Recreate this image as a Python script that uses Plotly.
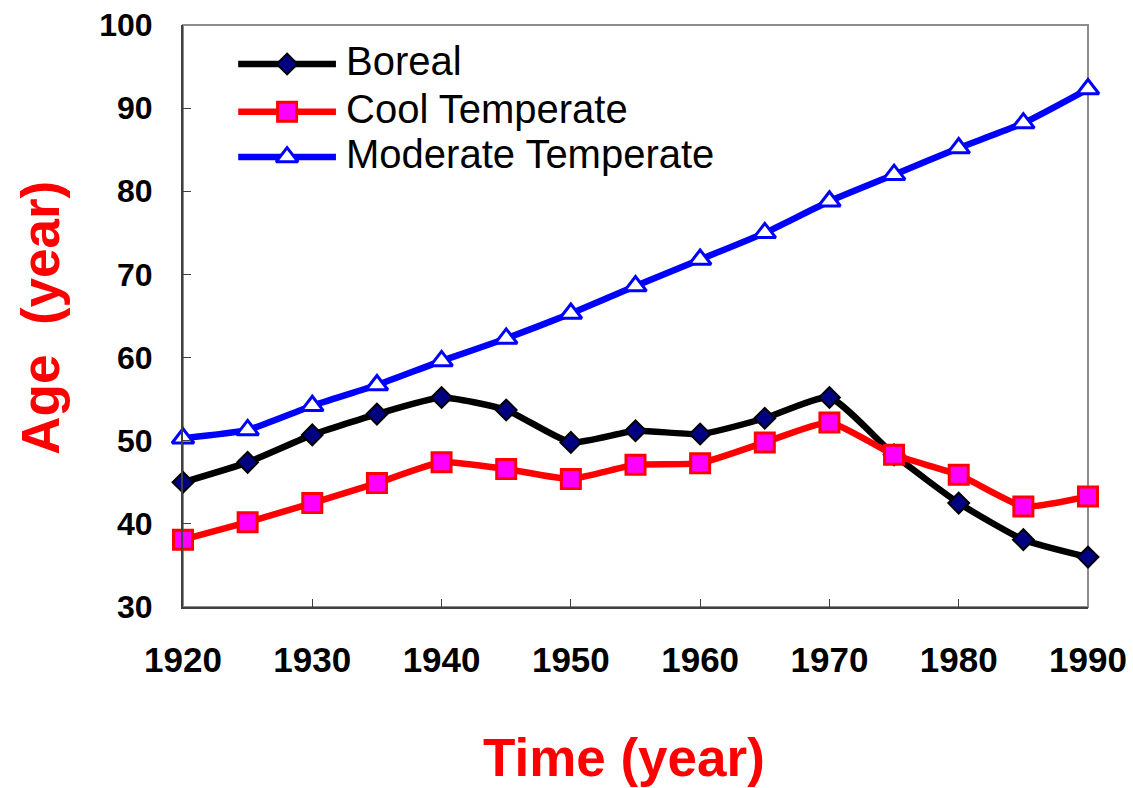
import plotly.graph_objects as go

# Mean stand age by forest zone
years = [1920, 1925, 1930, 1935, 1940, 1945, 1950, 1955, 1960, 1965, 1970, 1975, 1980, 1985, 1990]
boreal = [45.0, 47.4, 50.7, 53.2, 55.2, 53.7, 49.8, 51.2, 50.8, 52.7, 55.2, 48.3, 42.5, 38.1, 36.0]
cool_temperate = [38.1, 40.2, 42.5, 44.9, 47.4, 46.6, 45.4, 47.1, 47.3, 49.8, 52.2, 48.3, 45.9, 42.1, 43.3]
moderate_temperate = [50.3, 51.3, 54.2, 56.7, 59.6, 62.3, 65.3, 68.6, 71.8, 75.0, 78.8, 82.0, 85.2, 88.2, 92.3]

series_names = ["Boreal", "Cool Temperate", "Moderate Temperate"]
x_ticks = [1920, 1930, 1940, 1950, 1960, 1970, 1980, 1990]
y_ticks = [30, 40, 50, 60, 70, 80, 90, 100]

FONT = "Liberation Sans, Arial, sans-serif"

styles = [
    dict(line=dict(color="black", width=6.5),
         marker=dict(symbol="diamond", size=16, color="#000080",
                     line=dict(color="black", width=2))),
    dict(line=dict(color="#ff0000", width=6.5),
         marker=dict(symbol="square", size=19, color="#ff00ff",
                     line=dict(color="#ff0000", width=3))),
    dict(line=dict(color="#0000ff", width=6.5),
         marker=dict(symbol="triangle-up", size=19, color="white",
                     line=dict(color="#0000ff", width=3))),
]

fig = go.Figure()

for name, values, st in zip(series_names, [boreal, cool_temperate, moderate_temperate], styles):
    fig.add_trace(go.Scatter(
        x=years, y=values, name=name, mode="lines+markers",
        line=dict(st["line"], shape="spline", smoothing=0.5),
        marker=st["marker"], cliponaxis=False, showlegend=False,
    ))

# Hand-placed legend drawn on an overlay axis spanning the plot area (0..1)
legend_rows = [0.933, 0.851, 0.773]
legend_x0, legend_x1, legend_xm, legend_text_x = 0.061, 0.169, 0.115, 0.178
annotations = []
for name, st, ry in zip(series_names, styles, legend_rows):
    fig.add_trace(go.Scatter(
        x=[legend_x0, legend_x1], y=[ry, ry], mode="lines",
        line=st["line"], xaxis="x2", yaxis="y2", showlegend=False,
        hoverinfo="skip", cliponaxis=False,
    ))
    fig.add_trace(go.Scatter(
        x=[legend_xm], y=[ry], mode="markers",
        marker=st["marker"], xaxis="x2", yaxis="y2", showlegend=False,
        hoverinfo="skip", cliponaxis=False,
    ))
    annotations.append(dict(
        text=name, xref="paper", yref="paper", x=legend_text_x, y=ry + 0.005,
        xanchor="left", yanchor="middle", showarrow=False,
        font=dict(family=FONT, size=40, color="black"),
    ))

annotations += [
    dict(text="Time (year)", xref="paper", yref="paper", x=0.487, y=-0.258,
         xanchor="center", yanchor="middle", showarrow=False,
         font=dict(family=FONT, size=53, color="#ff0000", weight="bold")),
    dict(text="Age\u00a0\u00a0(year)", xref="paper", yref="paper", x=-0.157, y=0.497,
         xanchor="center", yanchor="middle", showarrow=False, textangle=-90,
         font=dict(family=FONT, size=53, color="#ff0000", weight="bold")),
]

# Frame: top and right edges in lighter grey
fig.add_shape(type="rect", xref="paper", yref="paper", x0=0, y0=0, x1=1, y1=1,
              line=dict(color="#8c8c8c", width=2), layer="below")

fig.update_layout(
    width=1133, height=788,
    margin=dict(l=183, r=45, t=25, b=181, autoexpand=False),
    paper_bgcolor="white", plot_bgcolor="white",
    font=dict(family=FONT, color="black"),
    showlegend=False,
    xaxis=dict(
        range=[1920, 1990], tickvals=x_ticks, ticktext=[str(v) for v in x_ticks],
        ticks="inside", ticklen=8, tickcolor="#404040", tickwidth=1,
        showline=True, linecolor="#404040", linewidth=2,
        showgrid=False, zeroline=False, automargin=False,
        tickfont=dict(family=FONT, size=35, color="black", weight="bold"),
        ticklabelstandoff=21,
    ),
    yaxis=dict(
        range=[30, 100], tickvals=y_ticks,
        ticks="inside", ticklen=8, tickcolor="#404040", tickwidth=1,
        showline=True, linecolor="#404040", linewidth=2,
        showgrid=False, zeroline=False, automargin=False,
        tickfont=dict(family=FONT, size=32, color="black", weight="bold"),
        ticklabelstandoff=22,
    ),
    xaxis2=dict(overlaying="x", range=[0, 1], visible=False, fixedrange=True),
    yaxis2=dict(overlaying="y", range=[0, 1], visible=False, fixedrange=True),
    annotations=annotations,
)

fig.write_html("out.html")
